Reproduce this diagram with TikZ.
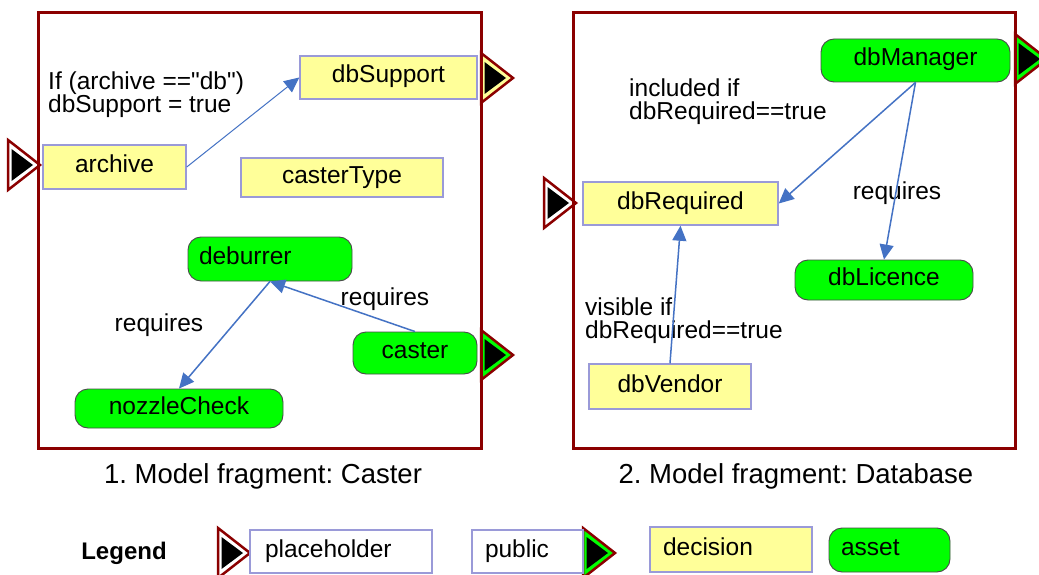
\documentclass[tikz,border=0pt]{standalone}
\usepackage{fontspec}
\setmainfont{Liberation Sans}[Ligatures=TeXOff]
\usetikzlibrary{arrows.meta}
\frenchspacing

\definecolor{framered}{HTML}{8B0000}
\definecolor{decfill}{HTML}{FFFF99}
\definecolor{boxline}{HTML}{9A9AD8}
\definecolor{assetgreen}{HTML}{00FF00}
\definecolor{assetline}{HTML}{4A4A4A}
\definecolor{linkblue}{HTML}{4472C4}
\definecolor{softblue}{HTML}{A6C2EA}

% port glyph: outer red triangle, coloured band, black core; #1 = base point, #2 = band colour
\newcommand{\portmark}[2]{%
  \begin{scope}[shift={#1}]
    \filldraw[draw=framered, line width=2.5, fill=#2, line join=miter]
      (0,-25) -- (32,0) -- (0,25) -- cycle;
    \fill[black] (3.5,-16) -- (25,0) -- (3.5,16) -- cycle;
  \end{scope}}

\tikzset{
  txt/.style={font=\fontsize{24.5}{23}\selectfont, inner sep=0pt},
  boxtxt/.style={font=\fontsize{24.5}{22}\selectfont, text height=17, text depth=6, inner sep=0pt},
  decision/.style={boxtxt, draw=boxline, line width=1.5, fill=decfill},
  asset/.style={boxtxt, draw=assetline, line width=0.9, fill=assetgreen, rounded corners=13},
  plain/.style={boxtxt, draw=boxline, line width=1.5, fill=white},
  fragment/.style={draw=framered, line width=3},
  link/.style={draw=linkblue, line width=1.5, -{Triangle[length=15,width=14]}},
  softlink/.style={draw=softblue, line width=1, -{Triangle[length=15,width=14,fill=linkblue]}, color=linkblue},
  leftpad/.style={text width=#1, align=left},
  caption/.style={font=\fontsize{27.5}{24}\selectfont, inner sep=0pt, anchor=base},
}

\begin{document}
\begin{tikzpicture}[x=1pt, y=-1pt]
\clip (0,0) rectangle (1039,575);
\fill[white] (0,0) rectangle (1039,575);

% ---------- ports ----------
\portmark{(8,165)}{white}
\portmark{(481,78)}{decfill}
\portmark{(481,355)}{assetgreen}
\portmark{(544,203)}{white}
\portmark{(1015,59)}{assetgreen}
\portmark{(218,553)}{white}
\portmark{(583,553)}{assetgreen}

% ---------- fragment frames ----------
\draw[fragment] (38,13) rectangle (481,448);
\draw[fragment] (573,13) rectangle (1015,448);

% ---------- fragment 1: Caster ----------
\node[decision, minimum width=143, minimum height=44] (archive) at (114.5,167) {archive};
\node[decision, minimum width=177, minimum height=43] (dbSupport) at (388.5,77.5) {dbSupport};
\node[decision, minimum width=202, minimum height=39] (casterType) at (342,177.5) {casterType};
\node[asset, minimum width=164, minimum height=44, inner xsep=11, leftpad=142] (deburrer) at (270,259) {deburrer};
\node[asset, minimum width=124, minimum height=42] (caster) at (415,353) {caster};
\node[asset, minimum width=208, minimum height=39] (nozzleCheck) at (179,408.5) {nozzleCheck};

\node[txt, anchor=base west, align=left] (cond1) at (48,113) {If (archive =="db")\\dbSupport = true};
\node[txt, anchor=base] (req1) at (159,331) {requires};
\node[txt, anchor=base] (req2) at (385,305) {requires};

\draw[softlink] (archive.east) -- (dbSupport.west);
\draw[link] (caster.north) -- (deburrer.south);
\draw[link] (deburrer.south) -- (nozzleCheck.north);

\node[caption] (cap1) at (263,483) {1. Model fragment: Caster};

% ---------- fragment 2: Database ----------
\node[asset, minimum width=189, minimum height=43] (dbManager) at (915.5,60.5) {dbManager};
\node[decision, minimum width=195, minimum height=43] (dbRequired) at (680.5,203.5) {dbRequired};
\node[asset, minimum width=178, minimum height=40] (dbLicence) at (884,280) {dbLicence};
\node[decision, minimum width=162, minimum height=45] (dbVendor) at (670,386.5) {dbVendor};

\node[txt, anchor=base west, align=left] (cond2) at (629,120) {included if\\dbRequired==true};
\node[txt, anchor=base west, align=left] (cond3) at (585,338) {visible if\\dbRequired==true};
\node[txt, anchor=base] (req3) at (897,200) {requires};

\draw[link] (dbManager.south) -- (dbRequired.east);
\draw[link] (dbManager.south) -- (dbLicence.north);
\draw[link] (dbVendor.north) -- (dbRequired.south);

\node[caption] (cap2) at (796,483) {2. Model fragment: Database};

% ---------- legend ----------
\node[txt, font=\bfseries\fontsize{24}{24}\selectfont, anchor=base] (legend) at (124,559) {Legend};
\node[plain, minimum width=182, minimum height=43, inner xsep=15, leftpad=152] (lgPlaceholder) at (341,551.5) {placeholder};
\node[plain, minimum width=111, minimum height=43, inner xsep=13, leftpad=85] (lgPublic) at (527.5,551.5) {public};
\node[decision, minimum width=162, minimum height=45, inner xsep=13, leftpad=136] (lgDecision) at (731,549.5) {decision};
\node[asset, minimum width=121, minimum height=44, inner xsep=12, leftpad=97] (lgAsset) at (889.5,550) {asset};
\end{tikzpicture}
\end{document}
